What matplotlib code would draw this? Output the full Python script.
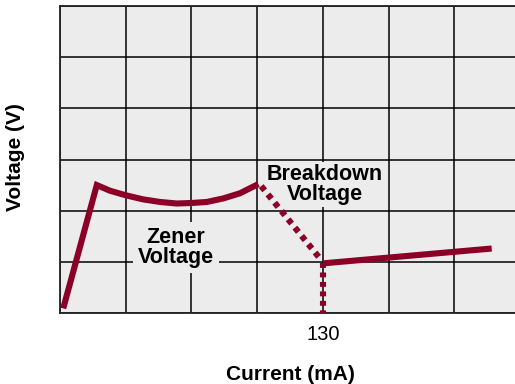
import matplotlib
matplotlib.use("Agg")
from matplotlib import pyplot as plt

plt.rcParams["font.family"] = ["Liberation Sans", "DejaVu Sans"]

RED = "#8c0028"
BG = "#ececec"

# grid: 32.5 mA per column, 1 V per row
x_step = 32.5
x_cells = 7
y_cells = 6

# forward rise then the zener curve
rise_x = [1.6, 18.2]
rise_y = [0.09, 2.50]
curve_x = [18.2, 24.7, 32.6, 41.2, 49.5, 57.7, 65.1, 72.6, 80.8, 89.0, 98.1]
curve_y = [2.50, 2.39, 2.30, 2.22, 2.17, 2.14, 2.15, 2.17, 2.24, 2.34, 2.52]

# breakdown drop (dotted)
drop_x = [99.5, 129.3]
drop_y = [2.48, 1.03]

# knee at 130 mA
knee_x = [130, 130]
knee_y = [0.97, 0.0]

# after breakdown
after_x = [130, 213.5]
after_y = [0.97, 1.26]

fig = plt.figure(figsize=(5.15, 3.84), dpi=100)
ax = fig.add_axes([60 / 515, 1 - 313 / 384, 460 / 515, 307 / 384])
ax.set_facecolor(BG)

ax.set_xlim(0, x_step * x_cells)
ax.set_ylim(0, y_cells)

xt = [x_step * i for i in range(x_cells + 1)]
ax.set_xticks(xt)
ax.set_xticklabels(["130" if abs(v - 130) < 1 else "" for v in xt], fontsize=14.5)
ax.set_yticks(range(y_cells + 1))
ax.set_yticklabels([])
ax.tick_params(length=0, pad=9)
ax.grid(True, color="black", linewidth=1.1)
ax.set_axisbelow(True)
for s in ax.spines.values():
    s.set_color("#222222")
    s.set_linewidth(1.3)

ax.plot(rise_x + curve_x[1:], rise_y + curve_y[1:], color=RED, lw=4.4,
        solid_joinstyle="miter", solid_capstyle="butt", zorder=3)
ax.plot(drop_x, drop_y, color=RED, lw=4.4, dashes=(0.9, 0.85),
        dash_capstyle="butt", zorder=3)
ax.plot(knee_x, knee_y, color=RED, lw=4.4, dashes=(0.8, 0.75),
        dash_capstyle="butt", zorder=3)
ax.plot(after_x, after_y, color=RED, lw=4.4, solid_capstyle="butt", zorder=3)

# label boxes hide the grid behind the text but sit under the curve
ax.text(57.4, 1.28, "Zener\nVoltage", ha="center", va="center", fontsize=15.5,
        fontweight="bold", linespacing=0.95, zorder=2.5,
        bbox=dict(facecolor=BG, edgecolor="none", pad=3.5))
ax.text(131, 2.51, "Breakdown\nVoltage", ha="center", va="center", fontsize=15.5,
        fontweight="bold", linespacing=0.95, zorder=2.5,
        bbox=dict(facecolor=BG, edgecolor="none", pad=1.5))

ax.set_xlabel("Current (mA)", fontsize=15, fontweight="bold", labelpad=15)
fig.text(16 / 515, 1 - 157 / 384, "Voltage (V)", rotation=90, ha="center",
         va="center", fontsize=15, fontweight="bold")

fig.savefig("out.png", dpi=100)
